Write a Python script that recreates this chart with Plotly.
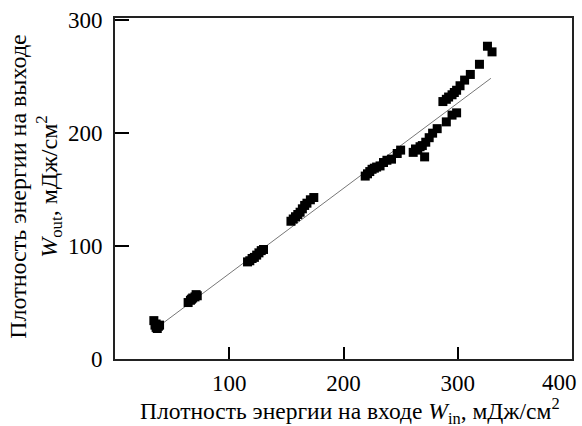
import plotly.graph_objects as go

# Input energy density W_in (mJ/cm^2)
w_in = [34, 35, 36, 37, 38, 36, 39,
        64, 66, 67, 68, 70, 71, 72,
        116, 118, 120, 122, 124, 126, 128, 130,
        154, 156, 158, 160, 162, 164, 166, 168, 171, 174,
        219, 221, 223, 225, 227, 229, 232, 235, 238, 242, 247, 250,
        261, 263, 265, 267, 269, 271, 272, 275, 278, 282,
        290, 295, 299,
        287, 290, 292, 295, 297, 299, 302, 306, 311, 319, 326, 330]
# Output energy density W_out (mJ/cm^2)
w_out = [34, 30, 28, 27, 29, 31, 30,
         50, 52, 53, 54, 55, 57, 56,
         86, 87, 89, 90, 92, 94, 96, 97,
         122, 124, 126, 128, 130, 133, 136, 138, 141, 143,
         162, 164, 166, 168, 169, 170, 171, 174, 176, 177, 182, 185,
         183, 186, 185, 188, 189, 179, 192, 196, 200, 204,
         210, 216, 218,
         228, 230, 232, 234, 236, 238, 242, 247, 252, 261, 277, 272]

# Linear fit line
fit_x = [37, 329]
fit_y = [28, 248.6]

x_ticks = [100, 200, 300]
x_last_tick = 400
y_ticks = [0, 100, 200, 300]

x_title = "Плотность энергии на входе <i>W</i><sub>in</sub>, мДж/см<sup>2</sup>"
y_title = "Плотность энергии на выходе<br><i>W</i><sub>out</sub>, мДж/см<sup>2</sup>"

fig = go.Figure()
fig.add_trace(go.Scatter(x=fit_x, y=fit_y, mode="lines",
                         line=dict(color="#777777", width=1), showlegend=False))
fig.add_trace(go.Scatter(x=w_in, y=w_out, mode="markers",
                         marker=dict(symbol="square", size=9, color="black",
                                     line=dict(width=0)),
                         showlegend=False))

font = dict(family="Liberation Serif, Times New Roman, serif", color="black")

fig.update_layout(
    width=582, height=426,
    margin=dict(l=115, r=8, t=17, b=67),
    paper_bgcolor="white", plot_bgcolor="white",
    font=dict(**font, size=23),
    xaxis=dict(range=[0, 400], tickvals=x_ticks, ticktext=[str(v) for v in x_ticks],
               ticks="inside", ticklen=12, tickwidth=2, tickcolor="black",
               showline=True, linecolor="#222222", linewidth=2, mirror=True,
               showgrid=False, zeroline=False, ticklabelstandoff=2,
               tickfont=dict(**font, size=23)),
    yaxis=dict(range=[0, 302], tickvals=y_ticks, ticktext=[str(v) for v in y_ticks],
               ticks="inside", ticklen=14, tickwidth=2, tickcolor="black",
               showline=True, linecolor="#222222", linewidth=2, mirror=True,
               showgrid=False, zeroline=False, ticklabelstandoff=6,
               tickfont=dict(**font, size=23)),
    annotations=[
        dict(text=str(x_last_tick), xref="x", yref="paper", x=x_last_tick, y=0,
             xanchor="center", yanchor="top", xshift=-13, yshift=-11, showarrow=False,
             borderpad=0, borderwidth=0, font=dict(**font, size=23)),
        dict(text=x_title, xref="paper", yref="paper", x=0.515, y=-0.153,
             xanchor="center", yanchor="middle", showarrow=False,
             borderpad=0, borderwidth=0, font=dict(**font, size=23.5)),
        dict(text=y_title, xref="paper", yref="paper", x=-0.1743, y=0.506,
             xanchor="center", yanchor="middle", showarrow=False, textangle=-90,
             font=dict(**font, size=24)),
    ],
)

fig.write_html("out.html")
